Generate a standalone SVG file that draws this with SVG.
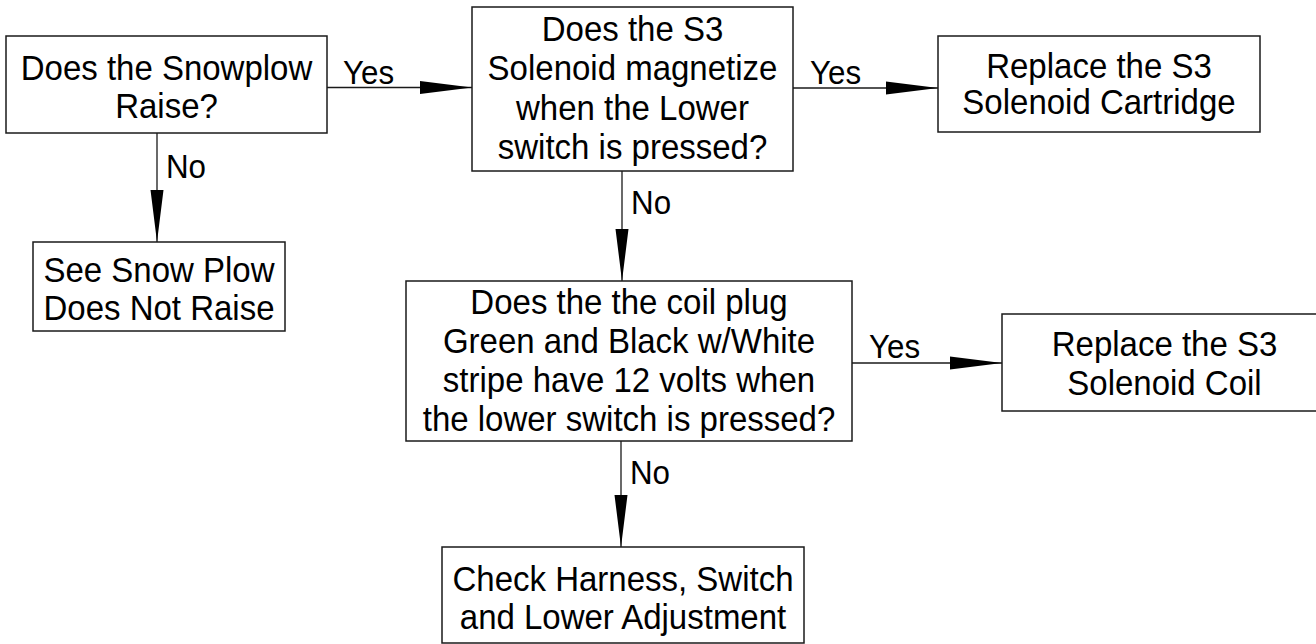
<svg xmlns="http://www.w3.org/2000/svg" width="1316" height="644" viewBox="0 0 1316 644">
<style>
  .box { fill: #ffffff; stroke: #1a1a1a; stroke-width: 1.5; }
  .t { font-family: "Liberation Sans", Arial, sans-serif; font-size: 35px; fill: #000; text-anchor: middle; transform-box: fill-box; transform-origin: center; transform: scaleX(0.943); }
  .lbl { font-family: "Liberation Sans", Arial, sans-serif; font-size: 33px; fill: #000; transform-box: fill-box; transform-origin: left; transform: scaleX(0.95); }
  .c { stroke: #1a1a1a; stroke-width: 1.3; fill: none; marker-end: url(#ah); }
</style>
<defs>
  <marker id="ah" markerUnits="userSpaceOnUse" markerWidth="52" markerHeight="14" refX="52" refY="7" orient="auto" viewBox="0 0 52 14">
    <path d="M0,0.5 L52,7 L0,13.5 Z" fill="#000"/>
  </marker>
</defs>
<rect width="1316" height="644" fill="#ffffff"/>

<g id="connectors">
  <line class="c" x1="327" y1="87.5" x2="472" y2="87.5"/>
  <line class="c" x1="157" y1="133" x2="157" y2="242"/>
  <line class="c" x1="793" y1="88" x2="938" y2="88"/>
  <line class="c" x1="622" y1="171" x2="622" y2="281"/>
  <line class="c" x1="852" y1="363" x2="1002" y2="363"/>
  <line class="c" x1="621" y1="441" x2="621" y2="547"/>
  <text class="lbl" x="343" y="84">Yes</text>
  <text class="lbl" x="166" y="178">No</text>
  <text class="lbl" x="810" y="84">Yes</text>
  <text class="lbl" x="631" y="214">No</text>
  <text class="lbl" x="869" y="358">Yes</text>
  <text class="lbl" x="630" y="484">No</text>
</g>

<g id="n1">
  <rect class="box" x="6" y="36" width="321" height="97"/>
  <text class="t" x="166.5" y="80">Does the Snowplow</text>
  <text class="t" x="166.5" y="118">Raise?</text>
</g>

<g id="n2">
  <rect class="box" x="33" y="242" width="252" height="89"/>
  <text class="t" x="159" y="282">See Snow Plow</text>
  <text class="t" x="159" y="320">Does Not Raise</text>
</g>

<g id="n3">
  <rect class="box" x="472" y="7" width="321" height="164"/>
  <text class="t" x="632.5" y="41">Does the S3</text>
  <text class="t" x="632.5" y="80.5">Solenoid magnetize</text>
  <text class="t" x="632.5" y="120">when the Lower</text>
  <text class="t" x="632.5" y="159.5">switch is pressed?</text>
</g>

<g id="n4">
  <rect class="box" x="938" y="36" width="322" height="96"/>
  <text class="t" x="1099" y="78">Replace the S3</text>
  <text class="t" x="1099" y="114">Solenoid Cartridge</text>
</g>

<g id="n5">
  <rect class="box" x="406" y="281" width="446" height="160"/>
  <text class="t" x="629" y="314">Does the the coil plug</text>
  <text class="t" x="629" y="353">Green and Black w/White</text>
  <text class="t" x="629" y="392">stripe have 12 volts when</text>
  <text class="t" x="629" y="431">the lower switch is pressed?</text>
</g>

<g id="n6">
  <rect class="box" x="1002" y="314" width="325" height="97"/>
  <text class="t" x="1164.5" y="356">Replace the S3</text>
  <text class="t" x="1164.5" y="395">Solenoid Coil</text>
</g>

<g id="n7">
  <rect class="box" x="442" y="547" width="362" height="96"/>
  <text class="t" x="623" y="591">Check Harness, Switch</text>
  <text class="t" x="623" y="629">and Lower Adjustment</text>
</g>
</svg>
